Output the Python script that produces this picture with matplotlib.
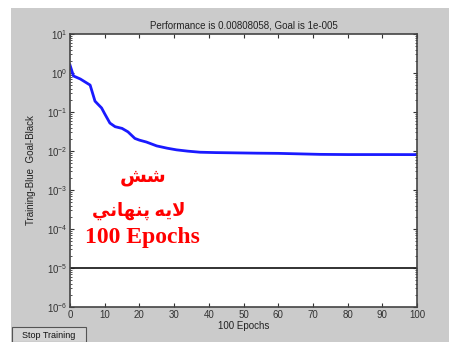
import numpy as np
import matplotlib.pyplot as plt
from matplotlib.patches import Rectangle

# training performance
epochs = [0, 1, 3, 5.8, 7.2, 8, 9.1, 10, 11.5, 13, 15, 16.7, 18.7, 20, 22, 25, 28, 30.7,
          34, 37.5, 42, 46, 53.8, 60, 72, 80, 90, 100]
perf = [1.6, 0.84, 0.7, 0.49, 0.19, 0.16, 0.127, 0.09, 0.052, 0.042, 0.038, 0.031, 0.021,
        0.019, 0.017, 0.0135, 0.0118, 0.0107, 0.0099, 0.0093, 0.0091, 0.0090, 0.0088,
        0.0087, 0.0082, 0.0081, 0.0081, 0.00808]
goal = 1e-5
title = 'Performance is 0.00808058, Goal is 1e-005'
ylabel = 'Training-Blue  Goal-Black'
xlabel = '100 Epochs'
xticks = list(range(0, 101, 10))
yticks = [1e-6, 1e-5, 1e-4, 1e-3, 1e-2, 1e-1, 1e0, 1e1]
# Arabic lines, pre-shaped (presentation forms, visual order)
note1 = '\uFEB6\uFEB7'
note2 = '\uFEF2\uFEE7\uFE8E\uFEEC\uFEE8\uFB58 \uFEEA\uFEF3\uFEFB'
note3 = '100 Epochs'

plt.rcParams['font.family'] = ['Liberation Sans', 'DejaVu Sans']

W, H = 449, 342
fig = plt.figure(figsize=(W / 100, H / 100), dpi=100, facecolor='white')
fig.patches.append(Rectangle((11 / W, 0), 1 - 11 / W, 1 - 8 / H, transform=fig.transFigure,
                             facecolor='#cbcbcb', edgecolor='none', zorder=-10))

ax = fig.add_axes([70 / W, 1 - 307 / H, 347 / W, 273 / H])
ax.semilogy(epochs, perf, color='#1a1aff', lw=2)
ax.axhline(goal, color='#222222', lw=1.3)
ax.set_xlim(0, 100)
ax.set_ylim(1e-6, 1e1)
ax.set_xticks(xticks)
ax.set_yticks(yticks)
ax.tick_params(which='both', direction='in', top=True, right=True, labelsize=7,
               colors='#333333', pad=2)
ax.tick_params(which='major', length=3)
ax.tick_params(which='minor', length=1.5)
for s in ax.spines.values():
    s.set_color('#444444')
    s.set_linewidth(1.2)
ax.set_title(title, fontsize=7, color='#222222', pad=4)
ax.set_xlabel(xlabel, fontsize=7, color='#222222', labelpad=1)
ax.set_ylabel(ylabel, fontsize=7, color='#222222', labelpad=8)

serif = ['Liberation Serif', 'DejaVu Sans']
# positions in pixels from the top of the picture
fig.text(143 / W, 1 - 177 / H, note1, fontsize=14, fontweight='bold', color='red',
         ha='center', va='center', family=serif)
fig.text(139 / W, 1 - 211 / H, note2, fontsize=13, fontweight='bold', color='red',
         ha='center', va='center', family=serif)
fig.text(142.5 / W, 1 - 237 / H, note3, fontsize=17, fontweight='bold', color='red',
         ha='center', va='center', family=serif)

# Stop Training button
fig.patches.append(Rectangle((12 / W, 0), 74 / W, 15 / H, transform=fig.transFigure,
                             facecolor='#d4d4d4', edgecolor='#555555', lw=0.8))
fig.text(49 / W, 7 / H, 'Stop Training', fontsize=6.5, ha='center', va='center', color='#111111')

fig.savefig('out.png', dpi=100, facecolor=fig.get_facecolor())
